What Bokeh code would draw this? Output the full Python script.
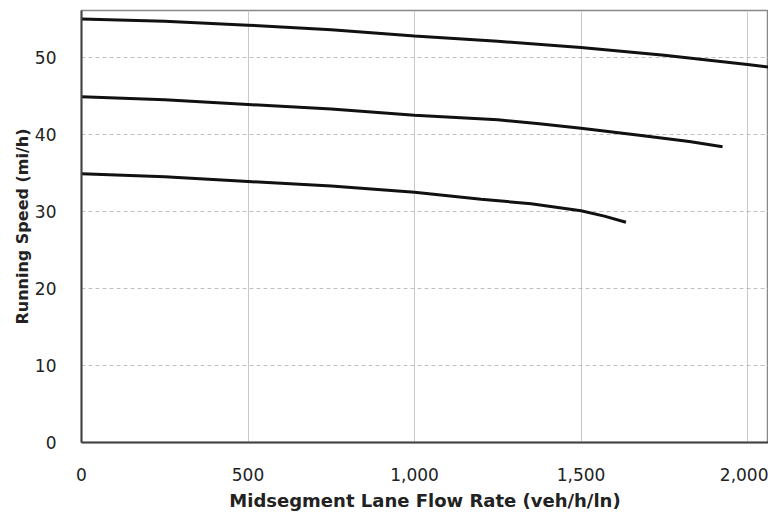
from bokeh.plotting import figure
from bokeh.models import Range1d, FixedTicker, NumeralTickFormatter
from bokeh.embed import file_html
from bokeh.resources import INLINE

# Data (flow in veh/h/ln, speed in mi/h)
flow_55 = [0, 250, 500, 750, 1000, 1250, 1500, 1750, 2000, 2070]
speed_55 = [55.0, 54.7, 54.2, 53.6, 52.8, 52.1, 51.3, 50.3, 49.1, 48.7]

flow_45 = [0, 250, 500, 750, 1000, 1250, 1375, 1500, 1675, 1825, 1925]
speed_45 = [44.9, 44.5, 43.9, 43.3, 42.5, 41.9, 41.4, 40.8, 39.9, 39.1, 38.4]

flow_35 = [0, 250, 500, 750, 1000, 1200, 1350, 1500, 1570, 1635]
speed_35 = [34.9, 34.5, 33.9, 33.3, 32.5, 31.6, 31.0, 30.1, 29.4, 28.6]

x_ticks = [0, 500, 1000, 1500, 2000]
y_ticks = [0, 10, 20, 30, 40, 50]

p = figure(width=768, height=513, output_backend="svg", toolbar_location=None,
           x_range=Range1d(0, 2063), y_range=Range1d(0, 56.1),
           min_border_left=81, min_border_right=0, min_border_top=10, min_border_bottom=71)

for fx, sy in [(flow_55, speed_55), (flow_45, speed_45), (flow_35, speed_35)]:
    p.line(fx, sy, line_color="#111111", line_width=3)

p.xaxis.ticker = FixedTicker(ticks=x_ticks)
p.yaxis.ticker = FixedTicker(ticks=y_ticks)
p.xaxis.formatter = NumeralTickFormatter(format="0,0")

for ax in (p.xaxis, p.yaxis):
    ax.major_tick_line_color = None
    ax.minor_tick_line_color = None
    ax.major_label_text_font = "DejaVu Sans"
    ax.major_label_text_font_size = "17px"
    ax.major_label_text_color = "#222222"
    ax.axis_label_text_font = "DejaVu Sans"
    ax.axis_label_text_font_style = "bold"
    ax.axis_label_text_color = "#222222"
    ax.axis_line_color = "#444444"
    ax.axis_line_width = 2

p.xaxis.axis_label = "Midsegment Lane Flow Rate (veh/h/ln)"
p.yaxis.axis_label = "Running Speed (mi/h)"
p.xaxis.axis_label_text_font_size = "18px"
p.yaxis.axis_label_text_font_size = "16px"
p.xaxis.major_label_standoff = 19
p.yaxis.major_label_standoff = 19
p.xaxis.axis_label_standoff = 6
p.yaxis.axis_label_standoff = 0

p.xgrid.grid_line_color = "#c8c8c8"
p.xgrid.grid_line_width = 1
p.ygrid.grid_line_color = "#c0c0c0"
p.ygrid.grid_line_dash = "4 3"
p.ygrid.grid_line_width = 1

p.outline_line_color = "#888888"
p.outline_line_width = 1.5
p.background_fill_color = "white"
p.border_fill_color = "white"

open("out.html", "w").write(file_html(p, INLINE))
